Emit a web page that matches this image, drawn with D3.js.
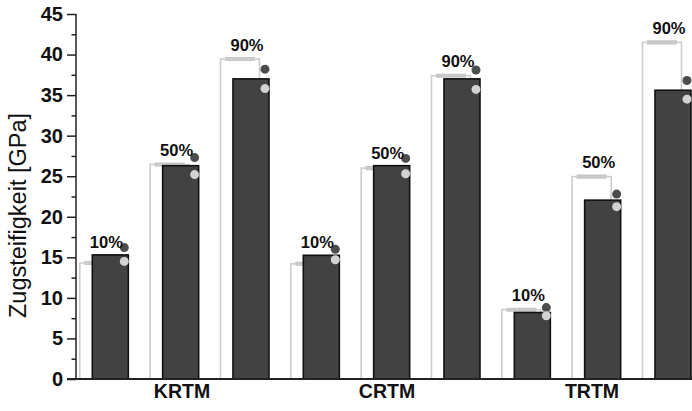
<!DOCTYPE html>
<html>
<head>
<meta charset="utf-8">
<script src="https://cdn.jsdelivr.net/npm/d3@7"></script>
<style>
  html, body { margin: 0; padding: 0; background: #fff; }
  svg { display: block; font-family: "Liberation Sans", Arial, sans-serif; }
</style>
</head>
<body>
<svg id="chart" width="692" height="411"></svg>
<script>
// Processes and fibre fractions
const groups = ["KRTM", "CRTM", "TRTM"];
const levels = ["10%", "50%", "90%"];

// Measured tensile stiffness (dark bars), GPa
const measured = {
  KRTM: [15.3, 26.3, 37.0],
  CRTM: [15.25, 26.3, 37.0],
  TRTM: [8.2, 22.05, 35.6]
};
// Predicted stiffness (outlined bars) and its spread, GPa
const predicted = {
  KRTM: [14.3, 26.45, 39.45],
  CRTM: [14.2, 26.0, 37.4],
  TRTM: [8.55, 24.95, 41.5]
};
const predictedErr = {
  KRTM: [0.15, 0.15, 0.15],
  CRTM: [0.15, 0.15, 0.15],
  TRTM: [0.15, 0.15, 0.15]
};
// Model estimates shown as points next to each bar
const upperPoint = {
  KRTM: [16.2, 27.3, 38.2],
  CRTM: [16.0, 27.2, 38.1],
  TRTM: [8.8, 22.8, 36.8]
};
const lowerPoint = {
  KRTM: [14.5, 25.2, 35.8],
  CRTM: [14.7, 25.3, 35.7],
  TRTM: [7.8, 21.25, 34.5]
};
const yMajorTicks = [0, 5, 10, 15, 20, 25, 30, 35, 40, 45];
const yMinorTicks = [2.5, 7.5, 12.5, 17.5, 22.5, 27.5, 32.5, 37.5, 42.5];

const rows = [];
groups.forEach(g => levels.forEach((l, i) => rows.push({
  key: g + "|" + l, group: g, level: l,
  measured: measured[g][i], predicted: predicted[g][i], err: predictedErr[g][i],
  upper: upperPoint[g][i], lower: lowerPoint[g][i]
})));

const svg = d3.select("#chart");

const y = d3.scaleLinear().domain([0, 45]).range([379, 14]);
const x = d3.scaleBand().domain(rows.map(d => d.key))
  .range([92.3, 691]).paddingInner(0.488).paddingOuter(0);
const xGroup = d3.scalePoint().domain(groups).range([182, 592]);

const bw = x.bandwidth();
const lightShift = 12.5, lightW = 39;

// Outlined prediction bars
const plot = svg.append("g");
plot.selectAll("rect.pred").data(rows).join("rect")
  .attr("class", "pred")
  .attr("x", d => x(d.key) - lightShift)
  .attr("y", d => y(d.predicted))
  .attr("width", lightW)
  .attr("height", d => y(0) - y(d.predicted))
  .attr("fill", "#fff")
  .attr("stroke", "#cdcdcd")
  .attr("stroke-width", 1.6);

// Error caps on the prediction bars
const cap = plot.selectAll("g.cap").data(rows).join("g").attr("class", "cap")
  .attr("stroke", "#c6c6c6").attr("stroke-width", 1.6).attr("fill", "none");
cap.append("path").attr("d", d => {
  const cx = x(d.key) - lightShift + lightW / 2;
  const y1 = y(d.predicted + d.err), y2 = y(d.predicted - d.err);
  return `M${cx - 15},${y1}H${cx + 15}M${cx - 15},${y2}H${cx + 15}M${cx},${y1}V${y2}`;
});

// Measured bars
plot.selectAll("rect.meas").data(rows).join("rect")
  .attr("class", "meas")
  .attr("x", d => x(d.key))
  .attr("y", d => y(d.measured))
  .attr("width", bw)
  .attr("height", d => y(0) - y(d.measured))
  .attr("fill", "#424242")
  .attr("stroke", "#111")
  .attr("stroke-width", 1.6);

// Points
plot.selectAll("circle.up").data(rows).join("circle")
  .attr("class", "up")
  .attr("cx", d => x(d.key) + 32)
  .attr("cy", d => y(d.upper))
  .attr("r", 4.5)
  .attr("fill", "#4d4d4d");
plot.selectAll("circle.low").data(rows).join("circle")
  .attr("class", "low")
  .attr("cx", d => x(d.key) + 32)
  .attr("cy", d => y(d.lower))
  .attr("r", 4.5)
  .attr("fill", "#d2d2d2");

// Fraction labels
plot.selectAll("text.lvl").data(rows).join("text")
  .attr("class", "lvl")
  .attr("x", d => x(d.key) + 14)
  .attr("y", d => y(Math.max(d.measured, d.predicted + d.err)) - 7)
  .attr("text-anchor", "middle")
  .attr("font-size", 16.5)
  .attr("font-weight", "bold")
  .attr("fill", "#111")
  .text(d => d.level);

// Y axis
const axisX = 76;
const yAxis = svg.append("g").attr("transform", `translate(${axisX},0)`)
  .call(d3.axisLeft(y).tickValues(yMajorTicks).tickSize(9).tickPadding(4).tickFormat(d3.format("d")));
yAxis.select(".domain").attr("stroke", "#222").attr("stroke-width", 1.5).attr("d", `M0,${y(0)}V${y(45)}`);
yAxis.selectAll(".tick line").attr("stroke", "#222").attr("stroke-width", 1.5);
yAxis.selectAll(".tick text")
  .attr("font-size", 20).attr("font-weight", "bold").attr("fill", "#111")
  .attr("font-family", "'Liberation Sans', Arial, sans-serif");

const yMinor = svg.append("g").attr("transform", `translate(${axisX},0)`)
  .call(d3.axisLeft(y).tickValues(yMinorTicks).tickSize(4.5).tickFormat(""));
yMinor.select(".domain").remove();
yMinor.selectAll(".tick line").attr("stroke", "#222").attr("stroke-width", 1.5);

// X axis baseline
svg.append("line")
  .attr("x1", axisX - 9).attr("x2", 692)
  .attr("y1", y(0)).attr("y2", y(0))
  .attr("stroke", "#222").attr("stroke-width", 1.8);

// Group labels
svg.selectAll("text.grp").data(groups).join("text")
  .attr("class", "grp")
  .attr("x", d => xGroup(d))
  .attr("y", 397.5)
  .attr("text-anchor", "middle")
  .attr("font-size", 19.5)
  .attr("font-weight", "bold")
  .attr("fill", "#111")
  .text(d => d);

// Y axis title
svg.append("text")
  .attr("transform", `translate(25.5,${215.5}) rotate(-90)`)
  .attr("text-anchor", "middle")
  .attr("font-size", 23.5)
  .attr("fill", "#111")
  .text("Zugsteifigkeit [GPa]");
</script>
</body>
</html>
